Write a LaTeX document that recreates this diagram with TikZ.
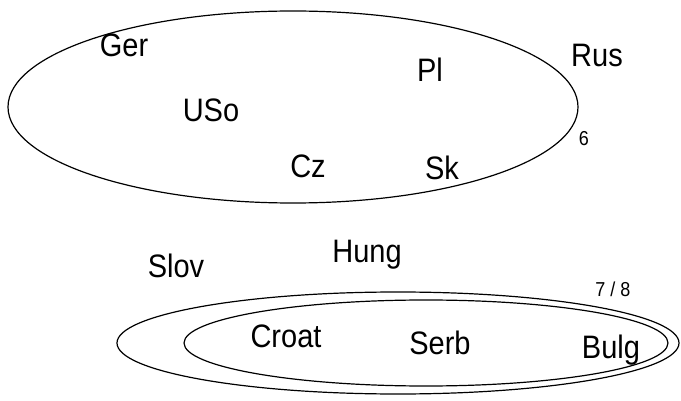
\documentclass[tikz,border=0pt]{standalone}
\usepackage{fontspec}
\usepackage{graphicx}
\setmainfont{Liberation Sans}
% slightly tall letterforms for the country labels
\newcommand{\tallname}[1]{\scalebox{1}[1.12]{#1}}
\begin{document}
\begin{tikzpicture}[x=1pt,y=-1pt,
  lbl/.style={inner sep=0pt, anchor=base, font=\fontsize{29}{31}\selectfont},
  num/.style={inner sep=0pt, anchor=base, font=\fontsize{18}{20}\selectfont},
  ring/.style={draw, line width=1.2pt}]
\useasboundingbox (0,0) rectangle (681,401);
% upper group
\draw[ring] (293,107) ellipse [x radius=285, y radius=96];
\node[lbl] (ger) at (124,57) {\tallname{Ger}};
\node[lbl] (pl) at (430,82) {\tallname{Pl}};
\node[lbl] (rus) at (597,67) {\tallname{Rus}};
\node[lbl] (uso) at (211,122) {\tallname{USo}};
\node[num] (six) at (584,146) {\tallname{6}};
\node[lbl] (cz) at (308,178) {\tallname{Cz}};
\node[lbl] (sk) at (442,180) {\tallname{Sk}};
% lower group
\node[lbl] (hung) at (367,262) {\tallname{Hung}};
\node[lbl] (slov) at (176,278) {\tallname{Slov}};
\node[num] (ratio) at (613,297) {\tallname{7 / 8}};
\draw[ring] (398,343) ellipse [x radius=281, y radius=51];
\draw[ring] (426,343) ellipse [x radius=242, y radius=43];
\node[lbl] (croat) at (286,347) {\tallname{Croat}};
\node[lbl] (serb) at (440,354) {\tallname{Serb}};
\node[lbl] (bulg) at (611,358) {\tallname{Bulg}};
\end{tikzpicture}
\end{document}
